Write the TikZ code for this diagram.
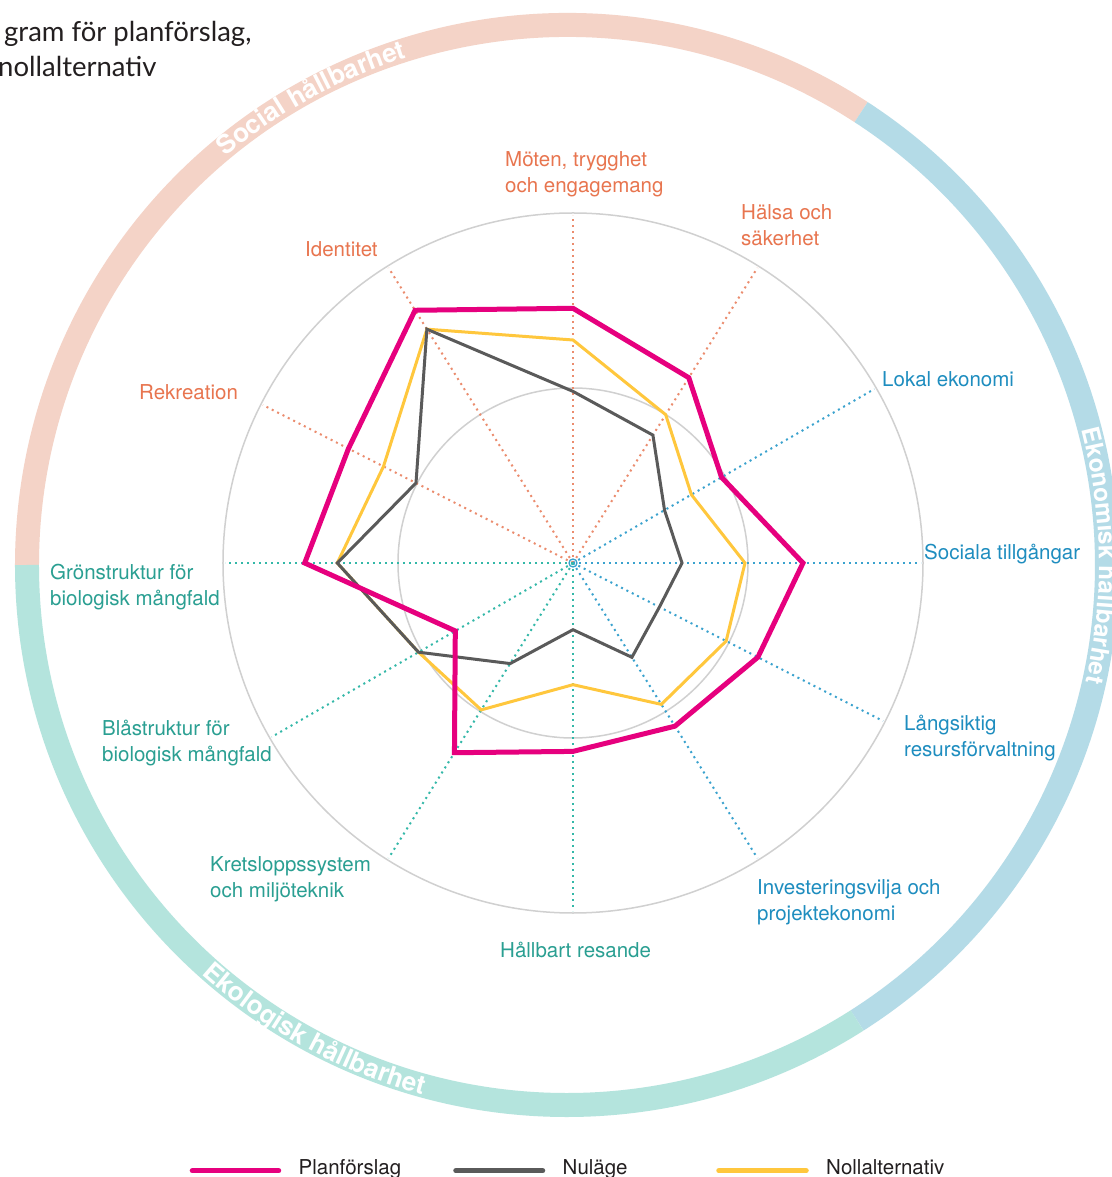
\documentclass[tikz,border=0pt]{standalone}
\usepackage{fontspec}
\setmainfont{TeX Gyre Heros}
\newfontfamily\titlefont{Lato}
\usetikzlibrary{decorations.text}
\definecolor{socring}{HTML}{F4D3C7}
\definecolor{ekoring}{HTML}{B4DBE7}
\definecolor{ekolring}{HTML}{B4E4DD}
\definecolor{socax}{HTML}{EB8C6E}
\definecolor{ekoax}{HTML}{3AA2CE}
\definecolor{ekolax}{HTML}{33B8A8}
\definecolor{soctxt}{HTML}{E8754F}
\definecolor{ekotxt}{HTML}{1E8DBF}
\definecolor{ekoltxt}{HTML}{2A9F92}
\definecolor{gridc}{HTML}{D0D0D0}
\definecolor{planc}{HTML}{E6007E}
\definecolor{nulc}{HTML}{5A5A5A}
\definecolor{nollc}{HTML}{FFC73D}
\definecolor{titlec}{HTML}{231F20}
\newcommand{\ringfnt}{\fontsize{26}{26}\selectfont\bfseries}
\newcommand{\ringfntb}{\fontsize{24.5}{26}\selectfont\bfseries}
\begin{document}
\begin{tikzpicture}[x=1pt,y=1pt,
  ringseg/.style={line width=24pt, line cap=butt},
  gridcircle/.style={draw=gridc, line width=1.5pt},
  spoke/.style={line width=2pt, dash pattern=on 2pt off 4pt},
  lbl/.style={inner sep=0pt, anchor=base west, align=left, font=\fontsize{20.5}{26}\selectfont},
  soclbl/.style={lbl, text=soctxt},
  ekolbl/.style={lbl, text=ekotxt},
  ekollbl/.style={lbl, text=ekoltxt},
  legline/.style={line width=5.5pt, line cap=round},
  legtxt/.style={inner sep=0pt, anchor=base west, font=\fontsize{20.5}{24}\selectfont, text=titlec},
  titletxt/.style={inner sep=0pt, anchor=base west, font=\titlefont\fontsize{27.5}{32}\selectfont, text=titlec},
  series/.style={line join=miter},
  ringtext/.style={decorate, decoration={text along path, text align=center, text color=white, text={#1}}}
]
\useasboundingbox (-573,-614) rectangle (538,563);
\fill[white] (-573,-614) rectangle (538,563);

% outer ring
\coordinate (rc) at (-6,-2);
\draw[ringseg, draw=socring] ([shift={(rc)}]57:540) arc[start angle=57, end angle=180, radius=540];
\draw[ringseg, draw=ekoring] ([shift={(rc)}]-57.5:540) arc[start angle=-57.5, end angle=57, radius=540];
\draw[ringseg, draw=ekolring] ([shift={(rc)}]180:540) arc[start angle=180, end angle=302.5, radius=540];

% ring texts
\path[ringtext={|\ringfnt|Social hållbarhet}] ([shift={(rc)}]138.7:532) arc[start angle=138.7, end angle=98.7, radius=532];
\path[ringtext={|\ringfntb|Ekonomisk hållbarhet}] ([shift={(rc)}]26:532) arc[start angle=26, end angle=-24, radius=532];
\path[ringtext={|\ringfnt|Ekologisk hållbarhet}] ([shift={(rc)}]-141.5:549) arc[start angle=-141.5, end angle=-95.5, radius=549];

% grid circles
\draw[gridcircle] (0,0) circle (175);
\draw[gridcircle] (0,0) circle (350);

% spokes
\foreach \a in {90,58,122,153} \draw[spoke, draw=socax] (0,0) -- (\a:348);
\foreach \a in {30,0,-27,-58} \draw[spoke, draw=ekoax] (0,0) -- (\a:348);
\foreach \a in {-90,-122,-150,180} \draw[spoke, draw=ekolax] (0,0) -- (\a:348);
\draw[draw=ekoax, line width=1.3pt] (0,0) circle (4);

% data series
\draw[series, draw=nollc, line width=3pt] (90:223) -- (58:174.9) -- (30:136.7) -- (0:172) -- (-27:171.9) -- (-58:166.7) -- (-90:121.7) -- (-122:173.2) -- (-150:178.4) -- (180:235.7) -- (153:212.7) -- (122:275.7) -- cycle;
\draw[series, draw=nulc, line width=3pt] (90:171.6) -- (58:150.8) -- (30:105.7) -- (0:109) -- (-27:97) -- (-58:111.2) -- (-90:66.7) -- (-122:118.6) -- (-150:178.4) -- (180:235.7) -- (153:176.2) -- (122:275.7) -- cycle;
\draw[series, draw=planc, line width=5pt] (90:254.7) -- (58:218.5) -- (30:171.5) -- (0:230) -- (-27:207.5) -- (-58:192.4) -- (-90:188.4) -- (-122:223.7) -- (-150:135.9) -- (180:268.3) -- (153:252) -- (122:298) -- cycle;

% axis labels (anchor: baseline of last line)
\node[soclbl] (moten) at (-68,370.3) {Möten, trygghet\\och engagemang};
\node[soclbl] (halsa) at (168,317) {Hälsa och\\säkerhet};
\node[ekolbl] (lokal) at (309,176) {Lokal ekonomi};
\node[ekolbl] (sociala) at (351,3) {Sociala tillgångar};
\node[ekolbl] (langsiktig) at (331,-193) {Långsiktig\\resursförvaltning};
\node[ekolbl] (invest) at (184,-357) {Investeringsvilja och\\projektekonomi};
\node[ekollbl] (hallbart) at (-73,-394) {Hållbart resande};
\node[ekollbl] (kretslopp) at (-363,-334) {Kretsloppssystem\\och miljöteknik};
\node[ekollbl] (bla) at (-471,-198) {Blåstruktur för\\biologisk mångfald};
\node[ekollbl] (gron) at (-523,-43) {Grönstruktur för\\biologisk mångfald};
\node[soclbl] (rekreation) at (-434,163) {Rekreation};
\node[soclbl] (identitet) at (-268,306) {Identitet};

% title
\node[titletxt] (title1) at (-569,521) {gram för planförslag,};
\node[titletxt] (title2) at (-575,486) {nollalternativ};

% legend
\coordinate (l1a) at (-380.5,-607.7); \coordinate (l1b) at (-294.5,-607.7);
\coordinate (l2a) at (-117,-607.7);   \coordinate (l2b) at (-30.5,-607.7);
\coordinate (l3a) at (146,-607.7);    \coordinate (l3b) at (233,-607.7);
\draw[legline, draw=planc] (l1a) -- (l1b);
\draw[legline, draw=nulc] (l2a) -- (l2b);
\draw[legline, draw=nollc] (l3a) -- (l3b);
\node[legtxt] (leg1) at (-274.5,-611) {Planförslag};
\node[legtxt] (leg2) at (-10.5,-611) {Nuläge};
\node[legtxt] (leg3) at (253,-611) {Nollalternativ};
\end{tikzpicture}
\end{document}
